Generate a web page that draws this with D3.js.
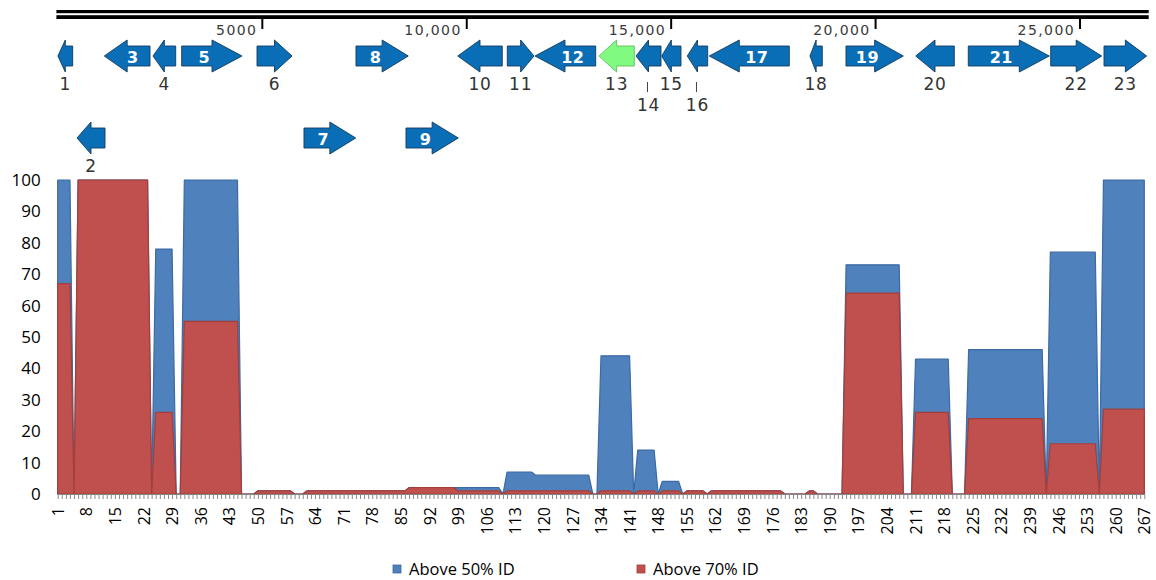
<!DOCTYPE html>
<html>
<head>
<meta charset="utf-8">
<script src="https://cdn.jsdelivr.net/npm/d3@7"></script>
<style>
  body { margin: 0; background: #fff; }
  svg { display: block; }
</style>
</head>
<body>
<svg></svg>
<script>
const width = 1156;
const height = 580;

// ---- chart data ----
const categories = d3.range(1, 268);
const xTickLabels = [1, 8, 15, 22, 29, 36, 43, 50, 57, 64, 71, 78, 85, 92, 99, 106, 113, 120, 127, 134,
  141, 148, 155, 162, 169, 176, 183, 190, 197, 204, 211, 218, 225, 232, 239, 246, 253, 260, 267];
const yTicks = [0, 10, 20, 30, 40, 50, 60, 70, 80, 90, 100];
const seriesNames = ['Above 50% ID', 'Above 70% ID'];

const above50 = [
  100, 100, 100, 100, 0,                                    // 1-5
  100, 100, 100, 100, 100, 100, 100, 100, 100,              // 6-14
  100, 100, 100, 100, 100, 100, 100, 100, 100, 0,           // 15-24
  78, 78, 78, 78, 78, 0, 0,                                 // 25-31
  100, 100, 100, 100, 100, 100, 100,                        // 32-38
  100, 100, 100, 100, 100, 100, 100, 0, 0, 0, 0,            // 39-49
  1, 1, 1, 1, 1, 1, 1, 1, 1, 0, 0, 0,                       // 50-61
  1, 1, 1, 1, 1, 1, 1, 1, 1, 1, 1, 1, 1,                    // 62-74
  1, 1, 1, 1, 1, 1, 1, 1, 1, 1, 1, 1,                       // 75-86
  2, 2, 2, 2, 2, 2, 2, 2, 2, 2, 2, 2,                       // 87-98
  2, 2, 2, 2, 2, 2, 2, 2, 2, 2, 2, 0,                       // 99-110
  7, 7, 7, 7, 7, 7, 7,                                      // 111-117
  6, 6, 6, 6, 6, 6, 6, 6, 6, 6, 6, 6, 6, 6, 0, 0,           // 118-133
  44, 44, 44, 44, 44, 44, 44, 44, 0,                        // 134-142
  14, 14, 14, 14, 14, 0, 4, 4, 4, 4, 4, 0,                  // 143-154
  1, 1, 1, 1, 1, 0,                                         // 155-160
  1, 1, 1, 1, 1, 1, 1, 1, 1, 1, 1, 1, 1, 1, 1, 1, 1, 1,     // 161-178
  0, 0, 0, 0, 0, 0, 1, 1, 0, 0, 0, 0, 0, 0, 0,              // 179-193
  73, 73, 73, 73, 73, 73, 73, 73, 73, 73, 73, 73, 73, 73,   // 194-207
  0, 0, 0, 43, 43, 43, 43, 43, 43, 43, 43, 43, 0, 0, 0, 0,  // 208-223
  46, 46, 46, 46, 46, 46, 46, 46, 46, 46,                   // 224-233
  46, 46, 46, 46, 46, 46, 46, 46, 46,                       // 234-242
  0, 77, 77, 77, 77, 77, 77, 77, 77, 77, 77, 77, 77, 0,     // 243-256
  100, 100, 100, 100, 100, 100, 100, 100, 100, 100, 100     // 257-267
];

const above70 = [
  67, 67, 67, 67, 0,                                        // 1-5
  100, 100, 100, 100, 100, 100, 100, 100, 100,              // 6-14
  100, 100, 100, 100, 100, 100, 100, 100, 100, 0,           // 15-24
  26, 26, 26, 26, 26, 0, 0,                                 // 25-31
  55, 55, 55, 55, 55, 55, 55,                               // 32-38
  55, 55, 55, 55, 55, 55, 55, 0, 0, 0, 0,                   // 39-49
  1, 1, 1, 1, 1, 1, 1, 1, 1, 0, 0, 0,                       // 50-61
  1, 1, 1, 1, 1, 1, 1, 1, 1, 1, 1, 1, 1,                    // 62-74
  1, 1, 1, 1, 1, 1, 1, 1, 1, 1, 1, 1,                       // 75-86
  2, 2, 2, 2, 2, 2, 2, 2, 2, 2, 2, 2,                       // 87-98
  1, 1, 1, 1, 1, 1, 1, 1, 1, 1, 1, 0,                       // 99-110
  1, 1, 1, 1, 1, 1, 1,                                      // 111-117
  1, 1, 1, 1, 1, 1, 1, 1, 1, 1, 1, 1, 1, 1, 0, 0,           // 118-133
  1, 1, 1, 1, 1, 1, 1, 1, 0,                                // 134-142
  1, 1, 1, 1, 1, 0, 1, 1, 1, 1, 1, 0,                       // 143-154
  1, 1, 1, 1, 1, 0,                                         // 155-160
  1, 1, 1, 1, 1, 1, 1, 1, 1, 1, 1, 1, 1, 1, 1, 1, 1, 1,     // 161-178
  0, 0, 0, 0, 0, 0, 1, 1, 0, 0, 0, 0, 0, 0, 0,              // 179-193
  64, 64, 64, 64, 64, 64, 64, 64, 64, 64, 64, 64, 64, 64,   // 194-207
  0, 0, 0, 26, 26, 26, 26, 26, 26, 26, 26, 26, 0, 0, 0, 0,  // 208-223
  24, 24, 24, 24, 24, 24, 24, 24, 24, 24,                   // 224-233
  24, 24, 24, 24, 24, 24, 24, 24, 24,                       // 234-242
  0, 16, 16, 16, 16, 16, 16, 16, 16, 16, 16, 16, 16, 0,     // 243-256
  27, 27, 27, 27, 27, 27, 27, 27, 27, 27, 27                // 257-267
];

// ---- gene map data (bp) ----
const genomeLength = 26680;
const rulerTicks = [5000, 10000, 15000, 20000, 25000];
const rulerLabels = ['5000', '10,000', '15,000', '20,000', '25,000'];

const geneNames  = ['1', '2', '3', '4', '5', '6', '7', '8', '9', '10', '11', '12',
  '13', '14', '15', '16', '17', '18', '19', '20', '21', '22', '23'];
const geneStart  = [0, 467, 1135, 2326, 3028, 4870, 6019, 7291, 8514, 9779, 10992, 11669,
  13235, 14140, 14768, 15394, 15932, 18395, 19276, 20981, 22267, 24283, 25587];
const geneEnd    = [362, 1152, 2253, 2881, 4503, 5726, 7284, 8570, 9793, 10869, 11645, 13154,
  14098, 14751, 15240, 15893, 17889, 18696, 20678, 21925, 24249, 25530, 26631];
const geneStrand = [-1, -1, -1, -1, 1, 1, 1, 1, 1, -1, 1, -1,
  -1, -1, -1, -1, -1, -1, 1, -1, 1, 1, 1];
const geneTrack  = [0, 1, 0, 0, 0, 0, 1, 0, 1, 0, 0, 0,
  0, 0, 0, 0, 0, 0, 0, 0, 0, 0, 0];
const highlighted = ['13'];

// label placement: inside the arrow, below it, or further below with a leader
const labelPlace = ['below', 'below', 'in', 'below', 'in', 'below', 'in', 'in', 'in', 'below', 'below', 'in',
  'below', 'low', 'below', 'low', 'in', 'below', 'in', 'below', 'in', 'below', 'below'];

const svg = d3.select('svg')
  .attr('width', width)
  .attr('height', height);

// ---- gene map ----
const g = d3.scaleLinear()
  .domain([0, genomeLength])
  .range([57.9, 1148.7]);

svg.append('rect')
  .attr('x', g(0) - 1.5).attr('y', 10)
  .attr('width', g(genomeLength) - g(0) + 1.5).attr('height', 3.2)
  .attr('fill', '#000');
svg.append('rect')
  .attr('x', g(0) - 1.5).attr('y', 15.2)
  .attr('width', g(genomeLength) - g(0) + 1.5).attr('height', 3.8)
  .attr('fill', '#000');

const ruler = svg.append('g').attr('class', 'ruler');
ruler.selectAll('line')
  .data(rulerTicks)
  .enter().append('line')
  .attr('x1', d => g(d)).attr('x2', d => g(d))
  .attr('y1', 18).attr('y2', 29)
  .attr('stroke', '#000')
  .attr('stroke-width', 2);
ruler.selectAll('text')
  .data(rulerTicks)
  .enter().append('text')
  .attr('x', (d, i) => g(d) - 5)
  .attr('y', 35)
  .attr('text-anchor', 'end')
  .attr('font-family', 'DejaVu Sans')
  .attr('font-size', 14)
  .attr('letter-spacing', 1.4)
  .attr('fill', '#3a3a3a')
  .text((d, i) => rulerLabels[i]);

const trackY = [56, 138];
const genes = geneNames.map((name, i) => ({
  name,
  x0: g(geneStart[i]),
  x1: g(geneEnd[i]),
  strand: geneStrand[i],
  yc: trackY[geneTrack[i]],
  place: labelPlace[i]
}));

function arrowPath(d) {
  const len = d.x1 - d.x0;
  const h = Math.min(len / 2, 30);
  const b = 10, hh = 16, y = d.yc;
  if (d.strand > 0) {
    const hx = d.x1 - h;
    return `M${d.x0},${y - b}L${hx},${y - b}L${hx},${y - hh}L${d.x1},${y}L${hx},${y + hh}L${hx},${y + b}L${d.x0},${y + b}Z`;
  }
  const hx = d.x0 + h;
  return `M${d.x1},${y - b}L${hx},${y - b}L${hx},${y - hh}L${d.x0},${y}L${hx},${y + hh}L${hx},${y + b}L${d.x1},${y + b}Z`;
}

function labelX(d) {
  const len = d.x1 - d.x0;
  const h = Math.min(len / 2, 30);
  const mid = (d.x0 + d.x1) / 2;
  if (d.place !== 'in') return mid;
  const bodyMid = d.strand > 0 ? (d.x0 + d.x1 - h) / 2 : (d.x0 + h + d.x1) / 2;
  return (mid + bodyMid) / 2;
}

const geneG = svg.append('g').attr('class', 'genes');
geneG.selectAll('path')
  .data(genes)
  .enter().append('path')
  .attr('d', arrowPath)
  .attr('fill', d => highlighted.includes(d.name) ? '#80fa80' : '#0a6eb6')
  .attr('stroke', d => highlighted.includes(d.name) ? '#5fbf5f' : '#123a60')
  .attr('stroke-width', 0.9);

geneG.selectAll('text.in')
  .data(genes.filter(d => d.place === 'in'))
  .enter().append('text')
  .attr('class', 'in')
  .attr('x', labelX)
  .attr('y', d => d.yc + 7)
  .attr('text-anchor', 'middle')
  .attr('font-family', 'DejaVu Sans')
  .attr('font-weight', 'bold')
  .attr('font-size', 16)
  .attr('letter-spacing', 0.5)
  .attr('fill', '#fff')
  .text(d => d.name);

geneG.selectAll('text.out')
  .data(genes.filter(d => d.place !== 'in'))
  .enter().append('text')
  .attr('class', 'out')
  .attr('x', labelX)
  .attr('y', d => d.place === 'low' ? d.yc + 55 : d.yc + 34)
  .attr('text-anchor', 'middle')
  .attr('font-family', 'DejaVu Sans')
  .attr('font-size', 17)
  .attr('letter-spacing', 0.8)
  .attr('fill', '#333')
  .text(d => d.name);

geneG.selectAll('line.leader')
  .data(genes.filter(d => d.place === 'low'))
  .enter().append('line')
  .attr('class', 'leader')
  .attr('x1', d => labelX(d) - 1).attr('x2', d => labelX(d) - 1)
  .attr('y1', d => d.yc + 26).attr('y2', d => d.yc + 36)
  .attr('stroke', '#444')
  .attr('stroke-width', 1);

// ---- area chart ----
const x = d3.scalePoint()
  .domain(categories)
  .range([57.7, 1144.3]);

const y = d3.scaleLinear()
  .domain([0, 100])
  .range([494, 180]);

const rows = categories.map((c, i) => ({ cat: c, a50: above50[i], a70: above70[i] }));

const area50 = d3.area()
  .x(d => x(d.cat))
  .y0(y(0))
  .y1(d => y(d.a50));
const area70 = d3.area()
  .x(d => x(d.cat))
  .y0(y(0))
  .y1(d => y(d.a70));

svg.append('path')
  .datum(rows)
  .attr('d', area50)
  .attr('fill', '#4f81bd')
  .attr('stroke', '#3c6aa3')
  .attr('stroke-width', 1.2)
  .attr('stroke-linejoin', 'round');

svg.append('path')
  .datum(rows)
  .attr('d', area70)
  .attr('fill', '#c0504d')
  .attr('stroke', '#a23f3c')
  .attr('stroke-width', 1.2)
  .attr('stroke-linejoin', 'round');

const xAxis = d3.axisBottom(x)
  .tickValues(categories)
  .tickSize(5)
  .tickSizeOuter(0)
  .tickFormat(d => xTickLabels.includes(d) ? d : '');

const xg = svg.append('g')
  .attr('id', 'x-axis')
  .attr('transform', `translate(0,${y(0)})`)
  .call(xAxis);
xg.select('.domain').attr('stroke', '#868686');
xg.selectAll('.tick line').attr('stroke', '#8a8a8a');
xg.selectAll('.tick text')
  .attr('transform', 'rotate(-90)')
  .attr('x', -13)
  .attr('y', 0)
  .attr('dy', '0.35em')
  .attr('text-anchor', 'end')
  .attr('font-family', 'Open Sans')
  .attr('font-size', 16)
  .attr('fill', '#000');

const yAxis = d3.axisLeft(y)
  .tickValues(yTicks)
  .tickSize(0)
  .tickPadding(17);

const yg = svg.append('g')
  .attr('id', 'y-axis')
  .attr('transform', `translate(${x(1)},0)`)
  .call(yAxis);
yg.select('.domain').remove();
yg.selectAll('.tick text')
  .attr('font-family', 'Open Sans')
  .attr('font-size', 17)
  .attr('fill', '#000');

// ---- legend ----
const legendColors = ['#4f81bd', '#c0504d'];
const legendStroke = ['#3c6aa3', '#a23f3c'];
const legendX = [393, 637];
const legend = svg.append('g').attr('class', 'legend');
legend.selectAll('rect')
  .data(seriesNames)
  .enter().append('rect')
  .attr('x', (d, i) => legendX[i])
  .attr('y', 565)
  .attr('width', 8)
  .attr('height', 8)
  .attr('fill', (d, i) => legendColors[i])
  .attr('stroke', (d, i) => legendStroke[i])
  .attr('stroke-width', 0.8);
legend.selectAll('text')
  .data(seriesNames)
  .enter().append('text')
  .attr('x', (d, i) => legendX[i] + 16)
  .attr('y', 575)
  .attr('font-family', 'Open Sans')
  .attr('font-size', 16.5)
  .attr('fill', '#000')
  .text(d => d);
</script>
</body>
</html>
